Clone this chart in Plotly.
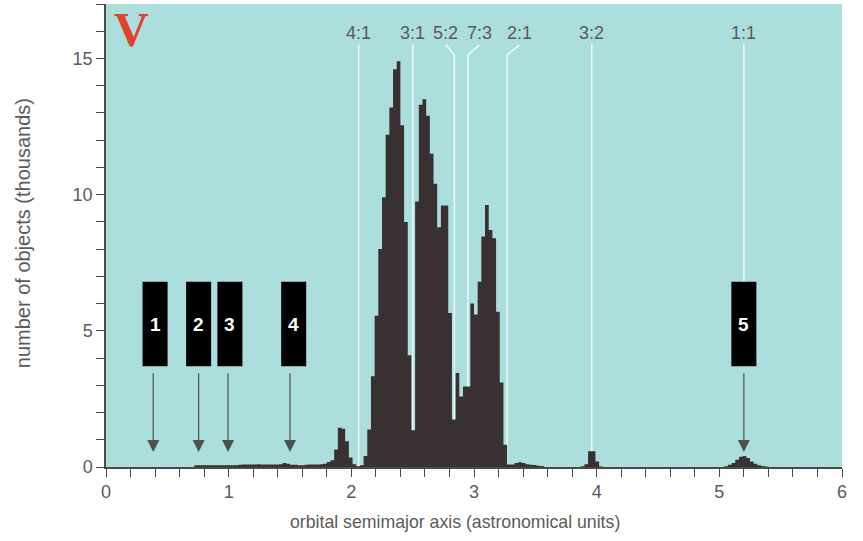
import plotly.graph_objects as go

# ---------------- data ----------------
BIN_WIDTH = 0.03  # AU

# number of objects (thousands) per 0.03-AU bin, consecutive bins from inner_start
inner_start = 0.72
inner_counts = [
    # 0.72 - 1.08
    0.06, 0.06, 0.06, 0.06, 0.06, 0.06, 0.06, 0.06, 0.06, 0.06, 0.06, 0.06,
    # 1.08 - 1.44
    0.08, 0.09, 0.09, 0.09, 0.09, 0.10, 0.09, 0.09, 0.09, 0.09, 0.09, 0.10,
    # 1.44 - 1.77
    0.15, 0.12, 0.08, 0.08, 0.06, 0.06, 0.08, 0.09, 0.09, 0.09, 0.10,
    # 1.77 - 2.10
    0.12, 0.18, 0.25, 0.64, 1.44, 1.40, 0.95, 0.35, 0.10, 0.03, 0.06,
    # 2.10 - 2.52
    0.40, 1.38, 3.33, 5.55, 8.0, 9.9, 12.2, 13.2, 14.6, 14.9, 12.55, 9.0, 4.1, 1.35,
    # 2.52 - 2.97
    9.75, 13.3, 13.5, 12.9, 11.5, 10.4, 8.8, 9.6, 9.6, 5.65, 1.74, 3.45, 2.59, 2.96, 2.96,
    # 2.97 - 3.27
    6.0, 5.6, 6.8, 8.46, 9.62, 8.7, 8.4, 5.7, 3.1, 0.82,
    # 3.27 - 3.57
    0.09, 0.09, 0.15, 0.17, 0.15, 0.10, 0.08, 0.07, 0.05, 0.04,
    # 3.57 - 3.87
    0, 0, 0, 0, 0, 0, 0, 0, 0, 0,
    # 3.87 - 4.05
    0.03, 0.10, 0.58, 0.58, 0.20, 0.02,
]

# Jupiter trojans
trojan_start = 5.04
trojan_counts = [0.03, 0.08, 0.15, 0.27, 0.38, 0.40, 0.33, 0.20, 0.12, 0.06, 0.04, 0.02]

# resonances with Jupiter
res_names = ["4:1", "3:1", "5:2", "7:3", "2:1", "3:2", "1:1"]
res_au = [2.06, 2.50, 2.84, 2.95, 3.27, 3.96, 5.20]
res_label_au = [2.06, 2.50, 2.77, 3.045, 3.37, 3.96, 5.20]

# planets (numbered boxes with arrows)
planet_labels = ["1", "2", "3", "4", "5"]
planet_au = [0.385, 0.755, 0.995, 1.50, 5.20]
box_au = [0.40, 0.755, 1.01, 1.53, 5.20]

x_ticks = [0, 1, 2, 3, 4, 5, 6]
y_ticks = [0, 5, 10, 15]

x_title = "orbital semimajor axis (astronomical units)"
y_title = "number of objects (thousands)"

# ---------------- styles ----------------
BG = "#addede"
BAR = "#383031"
TXT = "#5a5a5a"
AXC = "#4a4a4a"
WL = "#eefafa"
FONT = "Liberation Sans, Arial, sans-serif"

fig = go.Figure()


def add_hist(start, counts):
    edges = [start + i * BIN_WIDTH for i in range(len(counts) + 1)]
    ys = list(counts) + [counts[-1]]
    fig.add_trace(go.Scatter(
        x=edges, y=ys, mode="lines", line=dict(width=0, shape="hv", color=BAR),
        fill="tozeroy", fillcolor=BAR, hoverinfo="skip", showlegend=False))


add_hist(inner_start, inner_counts)
add_hist(trojan_start, trojan_counts)

LABEL_Y = 15.95
LINE_TOP = 15.5
KINK_Y = 15.13
BOX_Y0, BOX_Y1 = 3.7, 6.8

shapes = []
for name, xr, xl in zip(res_names, res_au, res_label_au):
    y0 = BOX_Y1 if name == "1:1" else 0
    if abs(xr - xl) > 1e-6:
        shapes.append(dict(type="line", x0=xr, x1=xr, y0=y0, y1=KINK_Y, layer="below",
                           line=dict(color=WL, width=1.5)))
        shapes.append(dict(type="line", x0=xr, x1=xl, y0=KINK_Y, y1=LINE_TOP, layer="below",
                           line=dict(color=WL, width=1.5)))
    else:
        shapes.append(dict(type="line", x0=xr, x1=xr, y0=y0, y1=LINE_TOP, layer="below",
                           line=dict(color=WL, width=1.5)))

for bx in box_au:
    shapes.append(dict(type="rect", x0=bx - 0.102, x1=bx + 0.102, y0=BOX_Y0, y1=BOX_Y1,
                       fillcolor="black", line=dict(width=0), layer="above"))

annotations = []
for name, xl in zip(res_names, res_label_au):
    annotations.append(dict(x=xl, y=LABEL_Y, text=name, showarrow=False,
                            font=dict(family=FONT, size=18, color=TXT)))

for lab, bx in zip(planet_labels, box_au):
    annotations.append(dict(x=bx, y=(BOX_Y0 + BOX_Y1) / 2, text="<b>%s</b>" % lab, showarrow=False,
                            font=dict(family=FONT, size=19, color="white")))

for px in planet_au:
    annotations.append(dict(x=px, y=0.55, ax=px, ay=3.5, axref="x", ayref="y",
                            xref="x", yref="y", text="", showarrow=True,
                            arrowhead=2, arrowsize=2.0, arrowwidth=1.2, arrowcolor="#4f4f4f"))

annotations.append(dict(x=0.21, y=16.05, text="<b>V</b>", showarrow=False,
                        font=dict(family="Liberation Serif, Times New Roman, serif", size=48,
                                  color="#e2412b")))

# axis titles as annotations (positioned like the original)
annotations.append(dict(xref="paper", yref="paper", x=0.4745, y=0, yshift=-55,
                        xanchor="center", yanchor="middle", text=x_title, showarrow=False,
                        font=dict(family=FONT, size=17.7, color=TXT)))
annotations.append(dict(xref="paper", yref="paper", x=-0.1134, y=0.504, textangle=-90,
                        xanchor="center", yanchor="middle", text=y_title, showarrow=False,
                        font=dict(family=FONT, size=20, color=TXT)))

fig.update_layout(
    width=863, height=541,
    margin=dict(l=105.5, r=21, t=4, b=73.5),
    paper_bgcolor="white", plot_bgcolor=BG,
    shapes=shapes, annotations=annotations,
    font=dict(family=FONT, size=17, color=TXT),
    showlegend=False,
)

fig.update_xaxes(
    range=[0, 6], tickvals=x_ticks, ticktext=[str(v) for v in x_ticks],
    ticks="outside", ticklen=8, tickwidth=1.2, tickcolor=AXC,
    showline=True, linecolor=AXC, linewidth=1.5,
    showgrid=False, zeroline=False, automargin=False,
    minor=dict(dtick=0.2, ticks="outside", ticklen=8, tickwidth=1.2, tickcolor=AXC, showgrid=False),
    tickfont=dict(family=FONT, size=18, color=TXT),
)
fig.update_yaxes(
    range=[0, 17], tickvals=y_ticks, ticktext=[str(v) for v in y_ticks],
    ticks="outside", ticklen=8, tickwidth=1.2, tickcolor=AXC,
    showline=True, linecolor=AXC, linewidth=1.5,
    showgrid=False, zeroline=False, automargin=False,
    minor=dict(dtick=1, ticks="outside", ticklen=8, tickwidth=1.2, tickcolor=AXC, showgrid=False),
    tickfont=dict(family=FONT, size=18, color=TXT),
)

fig.write_html("out.html", config={"displayModeBar": False},
               post_script="document.body.style.margin='0px';")
